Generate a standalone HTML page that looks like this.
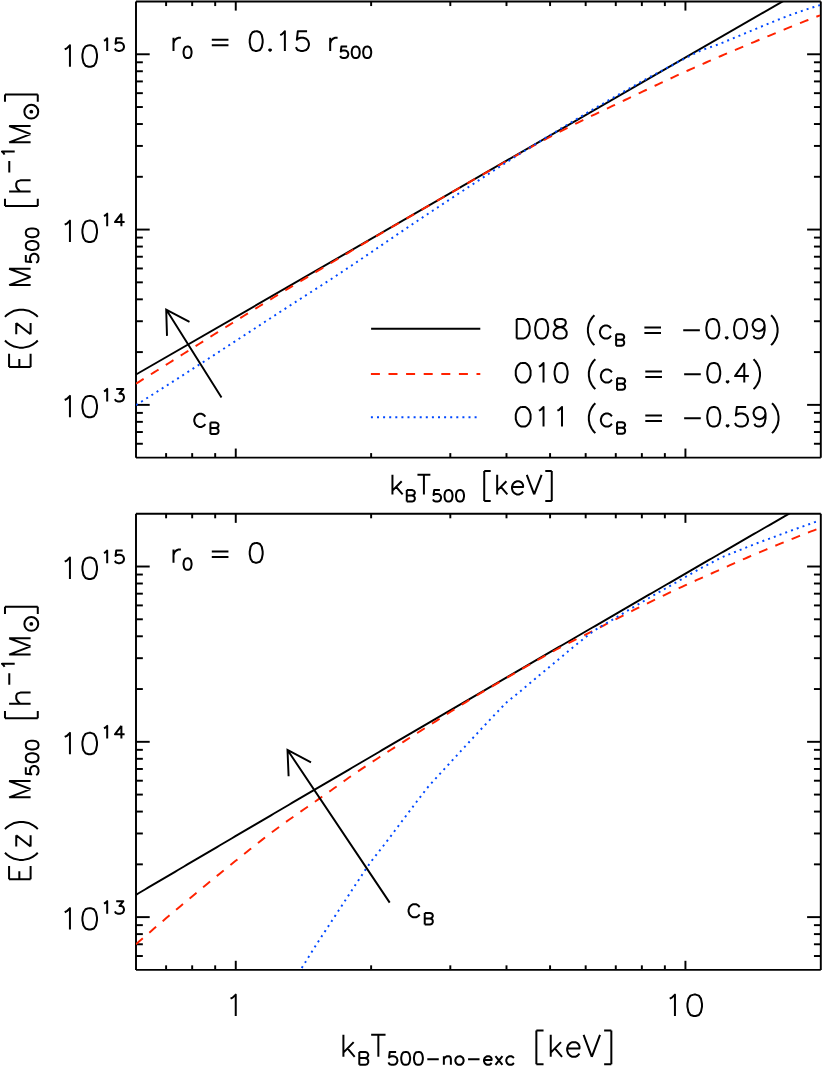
<!DOCTYPE html>
<html><head><meta charset="utf-8"><title>M-T relation</title>
<style>html,body{margin:0;padding:0;background:#fff;font-family:"Liberation Sans",sans-serif}svg{display:block}</style>
</head><body>
<svg width="822" height="1066" viewBox="0 0 822 1066">
<rect width="822" height="1066" fill="#fff"/>
<defs><clipPath id="c1"><rect x="136" y="1.5" width="684.8" height="456.14"/></clipPath><clipPath id="c2"><rect x="136" y="513.75" width="684.8" height="456.14"/></clipPath></defs>
<line x1="136" y1="1.5" x2="820.8" y2="1.5" stroke="#000" stroke-width="1.95" />
<line x1="136" y1="457.64" x2="820.8" y2="457.64" stroke="#000" stroke-width="1.95" />
<line x1="136" y1="1.5" x2="136" y2="457.64" stroke="#000" stroke-width="1.95" />
<line x1="820.8" y1="1.5" x2="820.8" y2="457.64" stroke="#000" stroke-width="1.95" />
<line x1="166.1" y1="457.64" x2="166.1" y2="453.09" stroke="#000" stroke-width="1.95" />
<line x1="166.1" y1="1.5" x2="166.1" y2="6.05" stroke="#000" stroke-width="1.95" />
<line x1="192.18" y1="457.64" x2="192.18" y2="453.09" stroke="#000" stroke-width="1.95" />
<line x1="192.18" y1="1.5" x2="192.18" y2="6.05" stroke="#000" stroke-width="1.95" />
<line x1="215.18" y1="457.64" x2="215.18" y2="453.09" stroke="#000" stroke-width="1.95" />
<line x1="215.18" y1="1.5" x2="215.18" y2="6.05" stroke="#000" stroke-width="1.95" />
<line x1="235.76" y1="457.64" x2="235.76" y2="448.54" stroke="#000" stroke-width="1.95" />
<line x1="235.76" y1="1.5" x2="235.76" y2="10.6" stroke="#000" stroke-width="1.95" />
<line x1="371.13" y1="457.64" x2="371.13" y2="453.09" stroke="#000" stroke-width="1.95" />
<line x1="371.13" y1="1.5" x2="371.13" y2="6.05" stroke="#000" stroke-width="1.95" />
<line x1="450.31" y1="457.64" x2="450.31" y2="453.09" stroke="#000" stroke-width="1.95" />
<line x1="450.31" y1="1.5" x2="450.31" y2="6.05" stroke="#000" stroke-width="1.95" />
<line x1="506.49" y1="457.64" x2="506.49" y2="453.09" stroke="#000" stroke-width="1.95" />
<line x1="506.49" y1="1.5" x2="506.49" y2="6.05" stroke="#000" stroke-width="1.95" />
<line x1="550.07" y1="457.64" x2="550.07" y2="453.09" stroke="#000" stroke-width="1.95" />
<line x1="550.07" y1="1.5" x2="550.07" y2="6.05" stroke="#000" stroke-width="1.95" />
<line x1="585.67" y1="457.64" x2="585.67" y2="453.09" stroke="#000" stroke-width="1.95" />
<line x1="585.67" y1="1.5" x2="585.67" y2="6.05" stroke="#000" stroke-width="1.95" />
<line x1="615.78" y1="457.64" x2="615.78" y2="453.09" stroke="#000" stroke-width="1.95" />
<line x1="615.78" y1="1.5" x2="615.78" y2="6.05" stroke="#000" stroke-width="1.95" />
<line x1="641.86" y1="457.64" x2="641.86" y2="453.09" stroke="#000" stroke-width="1.95" />
<line x1="641.86" y1="1.5" x2="641.86" y2="6.05" stroke="#000" stroke-width="1.95" />
<line x1="664.86" y1="457.64" x2="664.86" y2="453.09" stroke="#000" stroke-width="1.95" />
<line x1="664.86" y1="1.5" x2="664.86" y2="6.05" stroke="#000" stroke-width="1.95" />
<line x1="685.43" y1="457.64" x2="685.43" y2="448.54" stroke="#000" stroke-width="1.95" />
<line x1="685.43" y1="1.5" x2="685.43" y2="10.6" stroke="#000" stroke-width="1.95" />
<line x1="136" y1="443.76" x2="142.85" y2="443.76" stroke="#000" stroke-width="1.95" />
<line x1="820.8" y1="443.76" x2="813.95" y2="443.76" stroke="#000" stroke-width="1.95" />
<line x1="136" y1="432.02" x2="142.85" y2="432.02" stroke="#000" stroke-width="1.95" />
<line x1="820.8" y1="432.02" x2="813.95" y2="432.02" stroke="#000" stroke-width="1.95" />
<line x1="136" y1="421.86" x2="142.85" y2="421.86" stroke="#000" stroke-width="1.95" />
<line x1="820.8" y1="421.86" x2="813.95" y2="421.86" stroke="#000" stroke-width="1.95" />
<line x1="136" y1="412.89" x2="142.85" y2="412.89" stroke="#000" stroke-width="1.95" />
<line x1="820.8" y1="412.89" x2="813.95" y2="412.89" stroke="#000" stroke-width="1.95" />
<line x1="136" y1="404.87" x2="149.7" y2="404.87" stroke="#000" stroke-width="1.95" />
<line x1="820.8" y1="404.87" x2="807.1" y2="404.87" stroke="#000" stroke-width="1.95" />
<line x1="136" y1="352.1" x2="142.85" y2="352.1" stroke="#000" stroke-width="1.95" />
<line x1="820.8" y1="352.1" x2="813.95" y2="352.1" stroke="#000" stroke-width="1.95" />
<line x1="136" y1="321.23" x2="142.85" y2="321.23" stroke="#000" stroke-width="1.95" />
<line x1="820.8" y1="321.23" x2="813.95" y2="321.23" stroke="#000" stroke-width="1.95" />
<line x1="136" y1="299.33" x2="142.85" y2="299.33" stroke="#000" stroke-width="1.95" />
<line x1="820.8" y1="299.33" x2="813.95" y2="299.33" stroke="#000" stroke-width="1.95" />
<line x1="136" y1="282.34" x2="142.85" y2="282.34" stroke="#000" stroke-width="1.95" />
<line x1="820.8" y1="282.34" x2="813.95" y2="282.34" stroke="#000" stroke-width="1.95" />
<line x1="136" y1="268.46" x2="142.85" y2="268.46" stroke="#000" stroke-width="1.95" />
<line x1="820.8" y1="268.46" x2="813.95" y2="268.46" stroke="#000" stroke-width="1.95" />
<line x1="136" y1="256.72" x2="142.85" y2="256.72" stroke="#000" stroke-width="1.95" />
<line x1="820.8" y1="256.72" x2="813.95" y2="256.72" stroke="#000" stroke-width="1.95" />
<line x1="136" y1="246.56" x2="142.85" y2="246.56" stroke="#000" stroke-width="1.95" />
<line x1="820.8" y1="246.56" x2="813.95" y2="246.56" stroke="#000" stroke-width="1.95" />
<line x1="136" y1="237.59" x2="142.85" y2="237.59" stroke="#000" stroke-width="1.95" />
<line x1="820.8" y1="237.59" x2="813.95" y2="237.59" stroke="#000" stroke-width="1.95" />
<line x1="136" y1="229.57" x2="149.7" y2="229.57" stroke="#000" stroke-width="1.95" />
<line x1="820.8" y1="229.57" x2="807.1" y2="229.57" stroke="#000" stroke-width="1.95" />
<line x1="136" y1="176.8" x2="142.85" y2="176.8" stroke="#000" stroke-width="1.95" />
<line x1="820.8" y1="176.8" x2="813.95" y2="176.8" stroke="#000" stroke-width="1.95" />
<line x1="136" y1="145.93" x2="142.85" y2="145.93" stroke="#000" stroke-width="1.95" />
<line x1="820.8" y1="145.93" x2="813.95" y2="145.93" stroke="#000" stroke-width="1.95" />
<line x1="136" y1="124.03" x2="142.85" y2="124.03" stroke="#000" stroke-width="1.95" />
<line x1="820.8" y1="124.03" x2="813.95" y2="124.03" stroke="#000" stroke-width="1.95" />
<line x1="136" y1="107.04" x2="142.85" y2="107.04" stroke="#000" stroke-width="1.95" />
<line x1="820.8" y1="107.04" x2="813.95" y2="107.04" stroke="#000" stroke-width="1.95" />
<line x1="136" y1="93.16" x2="142.85" y2="93.16" stroke="#000" stroke-width="1.95" />
<line x1="820.8" y1="93.16" x2="813.95" y2="93.16" stroke="#000" stroke-width="1.95" />
<line x1="136" y1="81.42" x2="142.85" y2="81.42" stroke="#000" stroke-width="1.95" />
<line x1="820.8" y1="81.42" x2="813.95" y2="81.42" stroke="#000" stroke-width="1.95" />
<line x1="136" y1="71.26" x2="142.85" y2="71.26" stroke="#000" stroke-width="1.95" />
<line x1="820.8" y1="71.26" x2="813.95" y2="71.26" stroke="#000" stroke-width="1.95" />
<line x1="136" y1="62.29" x2="142.85" y2="62.29" stroke="#000" stroke-width="1.95" />
<line x1="820.8" y1="62.29" x2="813.95" y2="62.29" stroke="#000" stroke-width="1.95" />
<line x1="136" y1="54.27" x2="149.7" y2="54.27" stroke="#000" stroke-width="1.95" />
<line x1="820.8" y1="54.27" x2="807.1" y2="54.27" stroke="#000" stroke-width="1.95" />
<line x1="136" y1="513.75" x2="820.8" y2="513.75" stroke="#000" stroke-width="1.95" />
<line x1="136" y1="969.89" x2="820.8" y2="969.89" stroke="#000" stroke-width="1.95" />
<line x1="136" y1="513.75" x2="136" y2="969.89" stroke="#000" stroke-width="1.95" />
<line x1="820.8" y1="513.75" x2="820.8" y2="969.89" stroke="#000" stroke-width="1.95" />
<line x1="166.1" y1="969.89" x2="166.1" y2="965.34" stroke="#000" stroke-width="1.95" />
<line x1="166.1" y1="513.75" x2="166.1" y2="518.3" stroke="#000" stroke-width="1.95" />
<line x1="192.18" y1="969.89" x2="192.18" y2="965.34" stroke="#000" stroke-width="1.95" />
<line x1="192.18" y1="513.75" x2="192.18" y2="518.3" stroke="#000" stroke-width="1.95" />
<line x1="215.18" y1="969.89" x2="215.18" y2="965.34" stroke="#000" stroke-width="1.95" />
<line x1="215.18" y1="513.75" x2="215.18" y2="518.3" stroke="#000" stroke-width="1.95" />
<line x1="235.76" y1="969.89" x2="235.76" y2="960.79" stroke="#000" stroke-width="1.95" />
<line x1="235.76" y1="513.75" x2="235.76" y2="522.85" stroke="#000" stroke-width="1.95" />
<line x1="371.13" y1="969.89" x2="371.13" y2="965.34" stroke="#000" stroke-width="1.95" />
<line x1="371.13" y1="513.75" x2="371.13" y2="518.3" stroke="#000" stroke-width="1.95" />
<line x1="450.31" y1="969.89" x2="450.31" y2="965.34" stroke="#000" stroke-width="1.95" />
<line x1="450.31" y1="513.75" x2="450.31" y2="518.3" stroke="#000" stroke-width="1.95" />
<line x1="506.49" y1="969.89" x2="506.49" y2="965.34" stroke="#000" stroke-width="1.95" />
<line x1="506.49" y1="513.75" x2="506.49" y2="518.3" stroke="#000" stroke-width="1.95" />
<line x1="550.07" y1="969.89" x2="550.07" y2="965.34" stroke="#000" stroke-width="1.95" />
<line x1="550.07" y1="513.75" x2="550.07" y2="518.3" stroke="#000" stroke-width="1.95" />
<line x1="585.67" y1="969.89" x2="585.67" y2="965.34" stroke="#000" stroke-width="1.95" />
<line x1="585.67" y1="513.75" x2="585.67" y2="518.3" stroke="#000" stroke-width="1.95" />
<line x1="615.78" y1="969.89" x2="615.78" y2="965.34" stroke="#000" stroke-width="1.95" />
<line x1="615.78" y1="513.75" x2="615.78" y2="518.3" stroke="#000" stroke-width="1.95" />
<line x1="641.86" y1="969.89" x2="641.86" y2="965.34" stroke="#000" stroke-width="1.95" />
<line x1="641.86" y1="513.75" x2="641.86" y2="518.3" stroke="#000" stroke-width="1.95" />
<line x1="664.86" y1="969.89" x2="664.86" y2="965.34" stroke="#000" stroke-width="1.95" />
<line x1="664.86" y1="513.75" x2="664.86" y2="518.3" stroke="#000" stroke-width="1.95" />
<line x1="685.43" y1="969.89" x2="685.43" y2="960.79" stroke="#000" stroke-width="1.95" />
<line x1="685.43" y1="513.75" x2="685.43" y2="522.85" stroke="#000" stroke-width="1.95" />
<line x1="136" y1="956.01" x2="142.85" y2="956.01" stroke="#000" stroke-width="1.95" />
<line x1="820.8" y1="956.01" x2="813.95" y2="956.01" stroke="#000" stroke-width="1.95" />
<line x1="136" y1="944.27" x2="142.85" y2="944.27" stroke="#000" stroke-width="1.95" />
<line x1="820.8" y1="944.27" x2="813.95" y2="944.27" stroke="#000" stroke-width="1.95" />
<line x1="136" y1="934.11" x2="142.85" y2="934.11" stroke="#000" stroke-width="1.95" />
<line x1="820.8" y1="934.11" x2="813.95" y2="934.11" stroke="#000" stroke-width="1.95" />
<line x1="136" y1="925.14" x2="142.85" y2="925.14" stroke="#000" stroke-width="1.95" />
<line x1="820.8" y1="925.14" x2="813.95" y2="925.14" stroke="#000" stroke-width="1.95" />
<line x1="136" y1="917.12" x2="149.7" y2="917.12" stroke="#000" stroke-width="1.95" />
<line x1="820.8" y1="917.12" x2="807.1" y2="917.12" stroke="#000" stroke-width="1.95" />
<line x1="136" y1="864.35" x2="142.85" y2="864.35" stroke="#000" stroke-width="1.95" />
<line x1="820.8" y1="864.35" x2="813.95" y2="864.35" stroke="#000" stroke-width="1.95" />
<line x1="136" y1="833.48" x2="142.85" y2="833.48" stroke="#000" stroke-width="1.95" />
<line x1="820.8" y1="833.48" x2="813.95" y2="833.48" stroke="#000" stroke-width="1.95" />
<line x1="136" y1="811.58" x2="142.85" y2="811.58" stroke="#000" stroke-width="1.95" />
<line x1="820.8" y1="811.58" x2="813.95" y2="811.58" stroke="#000" stroke-width="1.95" />
<line x1="136" y1="794.59" x2="142.85" y2="794.59" stroke="#000" stroke-width="1.95" />
<line x1="820.8" y1="794.59" x2="813.95" y2="794.59" stroke="#000" stroke-width="1.95" />
<line x1="136" y1="780.71" x2="142.85" y2="780.71" stroke="#000" stroke-width="1.95" />
<line x1="820.8" y1="780.71" x2="813.95" y2="780.71" stroke="#000" stroke-width="1.95" />
<line x1="136" y1="768.97" x2="142.85" y2="768.97" stroke="#000" stroke-width="1.95" />
<line x1="820.8" y1="768.97" x2="813.95" y2="768.97" stroke="#000" stroke-width="1.95" />
<line x1="136" y1="758.81" x2="142.85" y2="758.81" stroke="#000" stroke-width="1.95" />
<line x1="820.8" y1="758.81" x2="813.95" y2="758.81" stroke="#000" stroke-width="1.95" />
<line x1="136" y1="749.84" x2="142.85" y2="749.84" stroke="#000" stroke-width="1.95" />
<line x1="820.8" y1="749.84" x2="813.95" y2="749.84" stroke="#000" stroke-width="1.95" />
<line x1="136" y1="741.82" x2="149.7" y2="741.82" stroke="#000" stroke-width="1.95" />
<line x1="820.8" y1="741.82" x2="807.1" y2="741.82" stroke="#000" stroke-width="1.95" />
<line x1="136" y1="689.05" x2="142.85" y2="689.05" stroke="#000" stroke-width="1.95" />
<line x1="820.8" y1="689.05" x2="813.95" y2="689.05" stroke="#000" stroke-width="1.95" />
<line x1="136" y1="658.18" x2="142.85" y2="658.18" stroke="#000" stroke-width="1.95" />
<line x1="820.8" y1="658.18" x2="813.95" y2="658.18" stroke="#000" stroke-width="1.95" />
<line x1="136" y1="636.28" x2="142.85" y2="636.28" stroke="#000" stroke-width="1.95" />
<line x1="820.8" y1="636.28" x2="813.95" y2="636.28" stroke="#000" stroke-width="1.95" />
<line x1="136" y1="619.29" x2="142.85" y2="619.29" stroke="#000" stroke-width="1.95" />
<line x1="820.8" y1="619.29" x2="813.95" y2="619.29" stroke="#000" stroke-width="1.95" />
<line x1="136" y1="605.41" x2="142.85" y2="605.41" stroke="#000" stroke-width="1.95" />
<line x1="820.8" y1="605.41" x2="813.95" y2="605.41" stroke="#000" stroke-width="1.95" />
<line x1="136" y1="593.67" x2="142.85" y2="593.67" stroke="#000" stroke-width="1.95" />
<line x1="820.8" y1="593.67" x2="813.95" y2="593.67" stroke="#000" stroke-width="1.95" />
<line x1="136" y1="583.51" x2="142.85" y2="583.51" stroke="#000" stroke-width="1.95" />
<line x1="820.8" y1="583.51" x2="813.95" y2="583.51" stroke="#000" stroke-width="1.95" />
<line x1="136" y1="574.54" x2="142.85" y2="574.54" stroke="#000" stroke-width="1.95" />
<line x1="820.8" y1="574.54" x2="813.95" y2="574.54" stroke="#000" stroke-width="1.95" />
<line x1="136" y1="566.52" x2="149.7" y2="566.52" stroke="#000" stroke-width="1.95" />
<line x1="820.8" y1="566.52" x2="807.1" y2="566.52" stroke="#000" stroke-width="1.95" />
<path d="M136 374.53 L820.8 -20.59" fill="none" stroke="#000" stroke-width="1.95" clip-path="url(#c1)"/>
<path d="M136 383.67 L139 381.8 L142 379.92 L145 378.05 L148 376.17 L151 374.29 L154 372.41 L157 370.53 L160 368.65 L163 366.76 L166 364.88 L169 362.99 L172 361.11 L175 359.22 L178 357.33 L181 355.44 L184 353.54 L187 351.65 L190 349.74 L193 347.84 L196 345.93 L199 344.03 L202 342.12 L205 340.22 L208 338.31 L211 336.41 L214 334.51 L217 332.62 L220 330.72 L223 328.84 L226 326.96 L229 325.09 L232 323.22 L235 321.35 L238 319.48 L241 317.61 L244 315.74 L247 313.88 L250 312.02 L253 310.16 L256 308.31 L259 306.46 L262 304.61 L265 302.77 L268 300.93 L271 299.1 L274 297.27 L277 295.44 L280 293.62 L283 291.8 L286 289.98 L289 288.17 L292 286.36 L295 284.55 L298 282.74 L301 280.94 L304 279.13 L307 277.33 L310 275.54 L313 273.74 L316 271.95 L319 270.16 L322 268.37 L325 266.58 L328 264.8 L331 263.01 L334 261.22 L337 259.44 L340 257.65 L343 255.87 L346 254.09 L349 252.3 L352 250.53 L355 248.75 L358 246.97 L361 245.2 L364 243.43 L367 241.67 L370 239.9 L373 238.14 L376 236.38 L379 234.63 L382 232.88 L385 231.13 L388 229.37 L391 227.62 L394 225.87 L397 224.12 L400 222.38 L403 220.63 L406 218.88 L409 217.13 L412 215.39 L415 213.64 L418 211.9 L421 210.15 L424 208.41 L427 206.67 L430 204.93 L433 203.19 L436 201.45 L439 199.71 L442 197.98 L445 196.24 L448 194.51 L451 192.78 L454 191.05 L457 189.32 L460 187.59 L463 185.87 L466 184.15 L469 182.42 L472 180.7 L475 178.98 L478 177.27 L481 175.55 L484 173.84 L487 172.12 L490 170.41 L493 168.7 L496 166.99 L499 165.29 L502 163.58 L505 161.88 L508 160.17 L511 158.47 L514 156.77 L517 155.07 L520 153.37 L523 151.68 L526 149.98 L529 148.29 L532 146.61 L535 144.96 L538 143.33 L541 141.71 L544 140.1 L547 138.51 L550 136.93 L553 135.35 L556 133.78 L559 132.21 L562 130.64 L565 129.09 L568 127.56 L571 126.04 L574 124.54 L577 123.04 L580 121.56 L583 120.09 L586 118.63 L589 117.18 L592 115.73 L595 114.29 L598 112.86 L601 111.43 L604 110 L607 108.57 L610 107.15 L613 105.72 L616 104.3 L619 102.87 L622 101.44 L625 100 L628 98.57 L631 97.13 L634 95.7 L637 94.27 L640 92.84 L643 91.42 L646 90 L649 88.58 L652 87.16 L655 85.75 L658 84.34 L661 82.93 L664 81.53 L667 80.14 L670 78.74 L673 77.36 L676 75.97 L679 74.6 L682 73.22 L685 71.86 L688 70.5 L691 69.14 L694 67.8 L697 66.46 L700 65.13 L703 63.81 L706 62.49 L709 61.18 L712 59.87 L715 58.57 L718 57.28 L721 55.99 L724 54.71 L727 53.43 L730 52.15 L733 50.88 L736 49.6 L739 48.34 L742 47.07 L745 45.81 L748 44.55 L751 43.28 L754 42.03 L757 40.77 L760 39.52 L763 38.27 L766 37.03 L769 35.79 L772 34.56 L775 33.32 L778 32.1 L781 30.87 L784 29.65 L787 28.44 L790 27.22 L793 26.01 L796 24.81 L799 23.6 L802 22.41 L805 21.21 L808 20.02 L811 18.83 L814 17.65 L817 16.47 L820 15.29" fill="none" stroke="#ff2200" stroke-width="1.95" stroke-dasharray="9 8.6" clip-path="url(#c1)"/>
<path d="M136 405.08 L139 403.18 L142 401.28 L145 399.38 L148 397.47 L151 395.57 L154 393.66 L157 391.75 L160 389.84 L163 387.93 L166 386.02 L169 384.1 L172 382.18 L175 380.26 L178 378.34 L181 376.41 L184 374.48 L187 372.55 L190 370.62 L193 368.68 L196 366.74 L199 364.8 L202 362.86 L205 360.91 L208 358.96 L211 357.02 L214 355.06 L217 353.11 L220 351.16 L223 349.2 L226 347.25 L229 345.29 L232 343.34 L235 341.38 L238 339.42 L241 337.46 L244 335.5 L247 333.54 L250 331.59 L253 329.63 L256 327.67 L259 325.71 L262 323.76 L265 321.8 L268 319.85 L271 317.89 L274 315.94 L277 313.99 L280 312.04 L283 310.09 L286 308.15 L289 306.2 L292 304.26 L295 302.32 L298 300.39 L301 298.45 L304 296.52 L307 294.6 L310 292.69 L313 290.77 L316 288.86 L319 286.95 L322 285.03 L325 283.1 L328 281.16 L331 279.2 L334 277.24 L337 275.27 L340 273.28 L343 271.29 L346 269.29 L349 267.29 L352 265.27 L355 263.25 L358 261.23 L361 259.2 L364 257.16 L367 255.12 L370 253.08 L373 251.04 L376 248.99 L379 246.94 L382 244.89 L385 242.85 L388 240.8 L391 238.75 L394 236.7 L397 234.66 L400 232.62 L403 230.58 L406 228.55 L409 226.52 L412 224.5 L415 222.48 L418 220.47 L421 218.46 L424 216.46 L427 214.48 L430 212.49 L433 210.52 L436 208.54 L439 206.56 L442 204.58 L445 202.6 L448 200.61 L451 198.63 L454 196.65 L457 194.66 L460 192.68 L463 190.7 L466 188.72 L469 186.75 L472 184.77 L475 182.8 L478 180.83 L481 178.87 L484 176.9 L487 174.94 L490 172.99 L493 171.04 L496 169.1 L499 167.16 L502 165.22 L505 163.29 L508 161.37 L511 159.46 L514 157.55 L517 155.65 L520 153.76 L523 151.87 L526 150 L529 148.13 L532 146.27 L535 144.42 L538 142.58 L541 140.75 L544 138.91 L547 137.08 L550 135.24 L553 133.41 L556 131.58 L559 129.75 L562 127.92 L565 126.1 L568 124.28 L571 122.47 L574 120.66 L577 118.86 L580 117.06 L583 115.28 L586 113.5 L589 111.72 L592 109.96 L595 108.21 L598 106.46 L601 104.73 L604 103 L607 101.28 L610 99.55 L613 97.83 L616 96.11 L619 94.39 L622 92.68 L625 90.97 L628 89.26 L631 87.55 L634 85.84 L637 84.13 L640 82.43 L643 80.74 L646 79.08 L649 77.45 L652 75.84 L655 74.25 L658 72.66 L661 71.09 L664 69.52 L667 67.95 L670 66.37 L673 64.78 L676 63.19 L679 61.6 L682 60.01 L685 58.43 L688 56.87 L691 55.33 L694 53.82 L697 52.34 L700 50.97 L703 49.75 L706 48.64 L709 47.6 L712 46.58 L715 45.55 L718 44.46 L721 43.28 L724 42.08 L727 40.86 L730 39.62 L733 38.38 L736 37.13 L739 35.87 L742 34.62 L745 33.37 L748 32.12 L751 30.88 L754 29.65 L757 28.4 L760 27.15 L763 25.9 L766 24.65 L769 23.41 L772 22.18 L775 20.96 L778 19.77 L781 18.59 L784 17.44 L787 16.31 L790 15.2 L793 14.11 L796 13.04 L799 11.99 L802 10.95 L805 9.94 L808 8.94 L811 7.95 L814 6.99 L817 6.04 L820 5.1" fill="none" stroke="#0048ff" stroke-width="1.95" stroke-dasharray="2 4.1" clip-path="url(#c1)"/>
<path d="M136 894.79 L139 893.02 L142 891.25 L145 889.48 L148 887.71 L151 885.94 L154 884.17 L157 882.4 L160 880.63 L163 878.86 L166 877.09 L169 875.32 L172 873.55 L175 871.79 L178 870.02 L181 868.25 L184 866.48 L187 864.71 L190 862.95 L193 861.18 L196 859.41 L199 857.65 L202 855.88 L205 854.11 L208 852.35 L211 850.58 L214 848.81 L217 847.05 L220 845.28 L223 843.52 L226 841.75 L229 839.99 L232 838.22 L235 836.46 L238 834.69 L241 832.93 L244 831.16 L247 829.4 L250 827.64 L253 825.87 L256 824.11 L259 822.35 L262 820.58 L265 818.82 L268 817.06 L271 815.3 L274 813.53 L277 811.77 L280 810.01 L283 808.25 L286 806.49 L289 804.72 L292 802.96 L295 801.2 L298 799.44 L301 797.68 L304 795.92 L307 794.16 L310 792.4 L313 790.64 L316 788.88 L319 787.12 L322 785.36 L325 783.6 L328 781.84 L331 780.08 L334 778.33 L337 776.57 L340 774.81 L343 773.05 L346 771.29 L349 769.54 L352 767.78 L355 766.02 L358 764.26 L361 762.51 L364 760.75 L367 758.99 L370 757.24 L373 755.48 L376 753.73 L379 751.97 L382 750.21 L385 748.46 L388 746.7 L391 744.95 L394 743.19 L397 741.44 L400 739.68 L403 737.93 L406 736.18 L409 734.42 L412 732.67 L415 730.91 L418 729.16 L421 727.41 L424 725.65 L427 723.9 L430 722.15 L433 720.4 L436 718.64 L439 716.89 L442 715.14 L445 713.39 L448 711.64 L451 709.89 L454 708.13 L457 706.38 L460 704.63 L463 702.88 L466 701.13 L469 699.38 L472 697.63 L475 695.88 L478 694.13 L481 692.38 L484 690.63 L487 688.88 L490 687.13 L493 685.39 L496 683.64 L499 681.89 L502 680.14 L505 678.39 L508 676.64 L511 674.9 L514 673.15 L517 671.4 L520 669.66 L523 667.91 L526 666.16 L529 664.42 L532 662.67 L535 660.92 L538 659.18 L541 657.43 L544 655.69 L547 653.94 L550 652.19 L553 650.45 L556 648.7 L559 646.96 L562 645.22 L565 643.47 L568 641.73 L571 639.98 L574 638.24 L577 636.5 L580 634.75 L583 633.01 L586 631.27 L589 629.52 L592 627.78 L595 626.04 L598 624.3 L601 622.55 L604 620.81 L607 619.07 L610 617.33 L613 615.59 L616 613.85 L619 612.11 L622 610.36 L625 608.62 L628 606.88 L631 605.14 L634 603.4 L637 601.66 L640 599.92 L643 598.18 L646 596.44 L649 594.71 L652 592.97 L655 591.23 L658 589.49 L661 587.75 L664 586.01 L667 584.27 L670 582.54 L673 580.8 L676 579.06 L679 577.32 L682 575.59 L685 573.85 L688 572.11 L691 570.38 L694 568.64 L697 566.9 L700 565.17 L703 563.43 L706 561.7 L709 559.96 L712 558.23 L715 556.49 L718 554.76 L721 553.02 L724 551.29 L727 549.55 L730 547.82 L733 546.08 L736 544.35 L739 542.62 L742 540.88 L745 539.15 L748 537.42 L751 535.68 L754 533.95 L757 532.22 L760 530.49 L763 528.76 L766 527.02 L769 525.29 L772 523.56 L775 521.83 L778 520.1 L781 518.37 L784 516.64 L787 514.91 L790 513.17 L793 511.44 L796 509.71 L799 507.98 L802 506.26 L805 504.53 L808 502.8 L811 501.07 L814 499.34 L817 497.61 L820 495.88" fill="none" stroke="#000" stroke-width="1.95" clip-path="url(#c2)"/>
<path d="M136 944.17 L139 941.56 L142 938.95 L145 936.36 L148 933.76 L151 931.18 L154 928.6 L157 926.02 L160 923.45 L163 920.89 L166 918.34 L169 915.79 L172 913.25 L175 910.72 L178 908.19 L181 905.67 L184 903.16 L187 900.65 L190 898.15 L193 895.65 L196 893.16 L199 890.67 L202 888.19 L205 885.71 L208 883.24 L211 880.78 L214 878.32 L217 875.88 L220 873.44 L223 871.01 L226 868.58 L229 866.17 L232 863.76 L235 861.36 L238 858.96 L241 856.55 L244 854.15 L247 851.75 L250 849.35 L253 846.97 L256 844.59 L259 842.23 L262 839.88 L265 837.56 L268 835.25 L271 832.97 L274 830.71 L277 828.48 L280 826.28 L283 824.1 L286 821.94 L289 819.8 L292 817.67 L295 815.56 L298 813.46 L301 811.36 L304 809.28 L307 807.2 L310 805.12 L313 803.04 L316 800.96 L319 798.87 L322 796.79 L325 794.69 L328 792.58 L331 790.46 L334 788.32 L337 786.16 L340 783.99 L343 781.82 L346 779.67 L349 777.54 L352 775.44 L355 773.38 L358 771.37 L361 769.36 L364 767.36 L367 765.37 L370 763.4 L373 761.42 L376 759.46 L379 757.5 L382 755.56 L385 753.61 L388 751.68 L391 749.74 L394 747.82 L397 745.9 L400 743.98 L403 742.06 L406 740.15 L409 738.24 L412 736.34 L415 734.43 L418 732.53 L421 730.63 L424 728.72 L427 726.81 L430 724.9 L433 722.98 L436 721.06 L439 719.15 L442 717.23 L445 715.31 L448 713.4 L451 711.49 L454 709.59 L457 707.69 L460 705.8 L463 703.93 L466 702.06 L469 700.2 L472 698.36 L475 696.53 L478 694.72 L481 692.92 L484 691.14 L487 689.38 L490 687.64 L493 685.89 L496 684.14 L499 682.39 L502 680.65 L505 678.9 L508 677.16 L511 675.42 L514 673.67 L517 671.93 L520 670.19 L523 668.45 L526 666.71 L529 664.98 L532 663.24 L535 661.5 L538 659.77 L541 658.04 L544 656.33 L547 654.65 L550 653 L553 651.36 L556 649.74 L559 648.12 L562 646.51 L565 644.95 L568 643.42 L571 641.92 L574 640.43 L577 638.96 L580 637.48 L583 636 L586 634.49 L589 632.97 L592 631.43 L595 629.89 L598 628.35 L601 626.8 L604 625.26 L607 623.71 L610 622.17 L613 620.62 L616 619.09 L619 617.56 L622 616.04 L625 614.52 L628 613 L631 611.49 L634 609.98 L637 608.47 L640 606.97 L643 605.48 L646 603.99 L649 602.52 L652 601.05 L655 599.59 L658 598.14 L661 596.7 L664 595.27 L667 593.85 L670 592.43 L673 591.02 L676 589.61 L679 588.21 L682 586.82 L685 585.43 L688 584.05 L691 582.68 L694 581.32 L697 579.96 L700 578.61 L703 577.27 L706 575.93 L709 574.59 L712 573.25 L715 571.91 L718 570.57 L721 569.23 L724 567.89 L727 566.55 L730 565.2 L733 563.86 L736 562.53 L739 561.19 L742 559.87 L745 558.55 L748 557.24 L751 555.94 L754 554.65 L757 553.37 L760 552.1 L763 550.84 L766 549.59 L769 548.34 L772 547.1 L775 545.86 L778 544.63 L781 543.41 L784 542.19 L787 540.97 L790 539.77 L793 538.56 L796 537.36 L799 536.17 L802 534.99 L805 533.81 L808 532.63 L811 531.46 L814 530.3 L817 529.14 L820 527.99" fill="none" stroke="#ff2200" stroke-width="1.95" stroke-dasharray="9 8.6" clip-path="url(#c2)"/>
<path d="M295 978.2 L297 975.18 L299 972.16 L301 969.14 L303 965.95 L305 962.75 L307 959.55 L309 956.35 L311 953.15 L313 949.95 L315 946.75 L317 943.55 L319 940.47 L321 937.43 L323 934.39 L325 931.35 L327 928.31 L329 925.26 L331 922.22 L333 919.18 L335 916.13 L337 913.06 L339 910 L341 906.93 L343 903.86 L345 900.79 L347 897.72 L349 894.65 L351 891.58 L353 888.55 L355 885.52 L357 882.49 L359 879.46 L361 876.43 L363 873.4 L365 870.39 L367 867.5 L369 864.61 L371 861.72 L373 859.08 L375 856.51 L377 853.95 L379 851.38 L381 848.82 L383 846.25 L385 843.69 L387 841.11 L389 838.46 L391 835.8 L393 833.15 L395 830.49 L397 827.84 L399 825.18 L401 822.53 L403 819.87 L405 817.21 L407 814.56 L409 811.9 L411 809.24 L413 806.58 L415 803.93 L417 801.28 L419 798.67 L421 796.06 L423 793.46 L425 790.85 L427 788.24 L429 785.88 L431 783.68 L433 781.48 L435 779.27 L437 777.07 L439 774.87 L441 772.68 L443 770.52 L445 768.35 L447 766.18 L449 764.01 L451 761.84 L453 759.67 L455 757.49 L457 755.32 L459 753.14 L461 750.96 L463 748.78 L465 746.6 L467 744.42 L469 742.24 L471 740.07 L473 737.91 L475 735.74 L477 733.57 L479 731.4 L481 729.23 L483 727.09 L485 724.98 L487 722.86 L489 720.74 L491 718.63 L493 716.51 L495 714.4 L497 712.28 L499 710.17 L501 708.06 L503 705.96 L505 703.85 L507 702.01 L509 700.43 L511 698.85 L513 697.27 L515 695.69 L517 694.11 L519 692.42 L521 690.73 L523 689.04 L525 687.35 L527 685.66 L529 683.97 L531 682.27 L533 680.58 L535 678.89 L537 677.22 L539 675.57 L541 673.93 L543 672.28 L545 670.63 L547 668.98 L549 667.33 L551 665.68 L553 664.03 L555 662.38 L557 660.71 L559 659.04 L561 657.36 L563 655.69 L565 654.02 L567 652.35 L569 650.67 L571 649 L573 647.33 L575 645.7 L577 644.09 L579 642.49 L581 640.89 L583 639.29 L585 637.69 L587 636.09 L589 634.49 L591 632.89 L593 631.28 L595 630.02 L597 628.82 L599 627.62 L601 626.42 L603 625.22 L605 624.05 L607 622.88 L609 621.72 L611 620.55 L613 619.38 L615 618.21 L617 617.02 L619 615.82 L621 614.62 L623 613.42 L625 612.22 L627 611.02 L629 609.82 L631 608.62 L633 607.42 L635 606.22 L637 605.02 L639 603.82 L641 602.64 L643 601.48 L645 600.33 L647 599.17 L649 598.01 L651 596.85 L653 595.69 L655 594.53 L657 593.37 L659 592.21 L661 591.06 L663 589.91 L665 588.76 L667 587.61 L669 586.46 L671 585.32 L673 584.17 L675 583.02 L677 581.87 L679 580.72 L681 579.58 L683 578.43 L685 577.28 L687 576.13 L689 574.98 L691 573.83 L693 572.69 L695 571.54 L697 570.39 L699 569.24 L701 568.15 L703 567.11 L705 566.07 L707 565.03 L709 563.99 L711 562.96 L713 561.92 L715 560.88 L717 559.84 L719 558.8 L721 557.76 L723 556.84 L725 556.03 L727 555.23 L729 554.42 L731 553.62 L733 552.81 L735 552.01 L737 551.2 L739 550.4 L741 549.59 L743 548.78 L745 547.98 L747 547.17 L749 546.37 L751 545.56 L753 544.76 L755 543.98 L757 543.24 L759 542.5 L761 541.76 L763 541.01 L765 540.27 L767 539.53 L769 538.79 L771 538.05 L773 537.3 L775 536.56 L777 535.82 L779 535.08 L781 534.34 L783 533.6 L785 532.85 L787 532.12 L789 531.4 L791 530.68 L793 529.96 L795 529.24 L797 528.52 L799 527.8 L801 527.08 L803 526.37 L805 525.65 L807 524.93 L809 524.21 L811 523.49 L813 522.77 L815 522.05 L817 521.33 L819 520.61" fill="none" stroke="#0048ff" stroke-width="1.95" stroke-dasharray="2 4.1" clip-path="url(#c2)"/>
<line x1="371.1" y1="328.8" x2="480.3" y2="328.8" stroke="#000" stroke-width="1.95" />
<line x1="370.9" y1="374.05" x2="480.3" y2="374.05" stroke="#ff2200" stroke-width="1.95" stroke-dasharray="9 8.6"/>
<line x1="370.9" y1="417.3" x2="480.3" y2="417.3" stroke="#0048ff" stroke-width="1.95" stroke-dasharray="2 4.1"/>
<path d="M221.5 397.4 L166.2 309.6 M167 335.9 L166.2 309.6 L189.5 321.9" fill="none" stroke="#000" stroke-width="1.95" stroke-linejoin="miter"/>
<path d="M389.7 902.6 L287.5 750 M288.6 776.2 L287.5 750 L311 762.3" fill="none" stroke="#000" stroke-width="1.95" stroke-linejoin="miter"/>
<g transform="translate(58.5 66.72)" fill="none" stroke="#000" stroke-width="2.0" stroke-linejoin="round"><path d="M6.24 -17.33 L8.32 -18.35 L11.44 -21.4 L11.44 0 M30.16 -21.4 L27.04 -20.38 L24.96 -17.33 L23.92 -12.23 L23.92 -9.17 L24.96 -4.08 L27.04 -1.02 L30.16 0 L32.24 0 L35.36 -1.02 L37.44 -4.08 L38.48 -9.17 L38.48 -12.23 L37.44 -17.33 L35.36 -20.38 L32.24 -21.4 L30.16 -21.4 M45.47 -26 L46.76 -26.6 L48.69 -28.4 L48.69 -15.8 M64.17 -28.4 L57.72 -28.4 L57.08 -23 L57.72 -23.6 L59.65 -24.2 L61.59 -24.2 L63.52 -23.6 L64.81 -22.4 L65.46 -20.6 L65.46 -19.4 L64.81 -17.6 L63.52 -16.4 L61.59 -15.8 L59.65 -15.8 L57.72 -16.4 L57.08 -17 L56.43 -18.2"/></g>
<g transform="translate(58.5 578.97)" fill="none" stroke="#000" stroke-width="2.0" stroke-linejoin="round"><path d="M6.24 -17.33 L8.32 -18.35 L11.44 -21.4 L11.44 0 M30.16 -21.4 L27.04 -20.38 L24.96 -17.33 L23.92 -12.23 L23.92 -9.17 L24.96 -4.08 L27.04 -1.02 L30.16 0 L32.24 0 L35.36 -1.02 L37.44 -4.08 L38.48 -9.17 L38.48 -12.23 L37.44 -17.33 L35.36 -20.38 L32.24 -21.4 L30.16 -21.4 M45.47 -26 L46.76 -26.6 L48.69 -28.4 L48.69 -15.8 M64.17 -28.4 L57.72 -28.4 L57.08 -23 L57.72 -23.6 L59.65 -24.2 L61.59 -24.2 L63.52 -23.6 L64.81 -22.4 L65.46 -20.6 L65.46 -19.4 L64.81 -17.6 L63.52 -16.4 L61.59 -15.8 L59.65 -15.8 L57.72 -16.4 L57.08 -17 L56.43 -18.2"/></g>
<g transform="translate(58.5 242.02)" fill="none" stroke="#000" stroke-width="2.0" stroke-linejoin="round"><path d="M6.24 -17.33 L8.32 -18.35 L11.44 -21.4 L11.44 0 M30.16 -21.4 L27.04 -20.38 L24.96 -17.33 L23.92 -12.23 L23.92 -9.17 L24.96 -4.08 L27.04 -1.02 L30.16 0 L32.24 0 L35.36 -1.02 L37.44 -4.08 L38.48 -9.17 L38.48 -12.23 L37.44 -17.33 L35.36 -20.38 L32.24 -21.4 L30.16 -21.4 M45.47 -26 L46.76 -26.6 L48.69 -28.4 L48.69 -15.8 M62.88 -28.4 L56.43 -20 L66.1 -20 M62.88 -28.4 L62.88 -15.8"/></g>
<g transform="translate(58.5 754.27)" fill="none" stroke="#000" stroke-width="2.0" stroke-linejoin="round"><path d="M6.24 -17.33 L8.32 -18.35 L11.44 -21.4 L11.44 0 M30.16 -21.4 L27.04 -20.38 L24.96 -17.33 L23.92 -12.23 L23.92 -9.17 L24.96 -4.08 L27.04 -1.02 L30.16 0 L32.24 0 L35.36 -1.02 L37.44 -4.08 L38.48 -9.17 L38.48 -12.23 L37.44 -17.33 L35.36 -20.38 L32.24 -21.4 L30.16 -21.4 M45.47 -26 L46.76 -26.6 L48.69 -28.4 L48.69 -15.8 M62.88 -28.4 L56.43 -20 L66.1 -20 M62.88 -28.4 L62.88 -15.8"/></g>
<g transform="translate(58.5 417.32)" fill="none" stroke="#000" stroke-width="2.0" stroke-linejoin="round"><path d="M6.24 -17.33 L8.32 -18.35 L11.44 -21.4 L11.44 0 M30.16 -21.4 L27.04 -20.38 L24.96 -17.33 L23.92 -12.23 L23.92 -9.17 L24.96 -4.08 L27.04 -1.02 L30.16 0 L32.24 0 L35.36 -1.02 L37.44 -4.08 L38.48 -9.17 L38.48 -12.23 L37.44 -17.33 L35.36 -20.38 L32.24 -21.4 L30.16 -21.4 M45.47 -26 L46.76 -26.6 L48.69 -28.4 L48.69 -15.8 M57.72 -28.4 L64.81 -28.4 L60.94 -23.6 L62.88 -23.6 L64.17 -23 L64.81 -22.4 L65.46 -20.6 L65.46 -19.4 L64.81 -17.6 L63.52 -16.4 L61.59 -15.8 L59.65 -15.8 L57.72 -16.4 L57.08 -17 L56.43 -18.2"/></g>
<g transform="translate(58.5 929.57)" fill="none" stroke="#000" stroke-width="2.0" stroke-linejoin="round"><path d="M6.24 -17.33 L8.32 -18.35 L11.44 -21.4 L11.44 0 M30.16 -21.4 L27.04 -20.38 L24.96 -17.33 L23.92 -12.23 L23.92 -9.17 L24.96 -4.08 L27.04 -1.02 L30.16 0 L32.24 0 L35.36 -1.02 L37.44 -4.08 L38.48 -9.17 L38.48 -12.23 L37.44 -17.33 L35.36 -20.38 L32.24 -21.4 L30.16 -21.4 M45.47 -26 L46.76 -26.6 L48.69 -28.4 L48.69 -15.8 M57.72 -28.4 L64.81 -28.4 L60.94 -23.6 L62.88 -23.6 L64.17 -23 L64.81 -22.4 L65.46 -20.6 L65.46 -19.4 L64.81 -17.6 L63.52 -16.4 L61.59 -15.8 L59.65 -15.8 L57.72 -16.4 L57.08 -17 L56.43 -18.2"/></g>
<g transform="translate(224.3 1016)" fill="none" stroke="#000" stroke-width="2.0" stroke-linejoin="round"><path d="M6.24 -17.33 L8.32 -18.35 L11.44 -21.4 L11.44 0"/></g>
<g transform="translate(663.5 1016)" fill="none" stroke="#000" stroke-width="2.0" stroke-linejoin="round"><path d="M6.24 -17.33 L8.32 -18.35 L11.44 -21.4 L11.44 0 M30.16 -21.4 L27.04 -20.38 L24.96 -17.33 L23.92 -12.23 L23.92 -9.17 L24.96 -4.08 L27.04 -1.02 L30.16 0 L32.24 0 L35.36 -1.02 L37.44 -4.08 L38.48 -9.17 L38.48 -12.23 L37.44 -17.33 L35.36 -20.38 L32.24 -21.4 L30.16 -21.4"/></g>
<g transform="translate(388.75 494.4)" fill="none" stroke="#000" stroke-width="2.0" stroke-linejoin="round"><path d="M3.7 -19.62 L3.7 0 M12.95 -13.08 L3.7 -3.74 M7.4 -7.47 L13.88 0 M18.02 -4.36 L18.02 7.19 M18.02 -4.36 L23.18 -4.36 L24.9 -3.81 L25.47 -3.26 L26.05 -2.16 L26.05 -1.06 L25.47 0.04 L24.9 0.59 L23.18 1.14 M18.02 1.14 L23.18 1.14 L24.9 1.69 L25.47 2.24 L26.05 3.34 L26.05 4.99 L25.47 6.09 L24.9 6.64 L23.18 7.19 L18.02 7.19 M35.17 -19.62 L35.17 0 M28.69 -19.62 L41.64 -19.62 M51.17 -4.36 L45.44 -4.36 L44.86 0.59 L45.44 0.04 L47.16 -0.51 L48.88 -0.51 L50.6 0.04 L51.74 1.14 L52.32 2.79 L52.32 3.89 L51.74 5.54 L50.6 6.64 L48.88 7.19 L47.16 7.19 L45.44 6.64 L44.86 6.09 L44.29 4.99 M59.2 -4.36 L57.48 -3.81 L56.33 -2.16 L55.76 0.59 L55.76 2.24 L56.33 4.99 L57.48 6.64 L59.2 7.19 L60.35 7.19 L62.07 6.64 L63.21 4.99 L63.79 2.24 L63.79 0.59 L63.21 -2.16 L62.07 -3.81 L60.35 -4.36 L59.2 -4.36 M70.67 -4.36 L68.95 -3.81 L67.8 -2.16 L67.23 0.59 L67.23 2.24 L67.8 4.99 L68.95 6.64 L70.67 7.19 L71.82 7.19 L73.54 6.64 L74.68 4.99 L75.26 2.24 L75.26 0.59 L74.68 -2.16 L73.54 -3.81 L71.82 -4.36 L70.67 -4.36 M95.48 -23.36 L95.48 6.54 M95.48 -23.36 L101.95 -23.36 M95.48 6.54 L101.95 6.54 M108.43 -19.62 L108.43 0 M117.68 -13.08 L108.43 -3.74 M112.13 -7.47 L118.6 0 M123.23 -7.47 L134.33 -7.47 L134.33 -9.34 L133.4 -11.21 L132.48 -12.15 L130.63 -13.08 L127.85 -13.08 L126 -12.15 L124.15 -10.28 L123.23 -7.47 L123.23 -5.61 L124.15 -2.8 L126 -0.93 L127.85 0 L130.63 0 L132.48 -0.93 L134.33 -2.8 M138.03 -19.62 L145.43 0 M152.83 -19.62 L145.43 0 M163 -23.36 L163 6.54 M156.53 -23.36 L163 -23.36 M156.53 6.54 L163 6.54"/></g>
<g transform="translate(339.3 1056.8)" fill="none" stroke="#000" stroke-width="2.0" stroke-linejoin="round"><path d="M4.11 -22 L4.11 0 M14.38 -14.67 L4.11 -4.19 M8.22 -8.38 L15.4 0 M20.01 -4.89 L20.01 8.07 M20.01 -4.89 L25.74 -4.89 L27.65 -4.27 L28.28 -3.66 L28.92 -2.42 L28.92 -1.19 L28.28 0.05 L27.65 0.66 L25.74 1.28 M20.01 1.28 L25.74 1.28 L27.65 1.9 L28.28 2.51 L28.92 3.75 L28.92 5.6 L28.28 6.83 L27.65 7.45 L25.74 8.07 L20.01 8.07 M39.05 -22 L39.05 0 M31.86 -22 L46.24 -22 M56.81 -4.89 L50.45 -4.89 L49.81 0.66 L50.45 0.05 L52.36 -0.57 L54.27 -0.57 L56.18 0.05 L57.45 1.28 L58.09 3.13 L58.09 4.36 L57.45 6.22 L56.18 7.45 L54.27 8.07 L52.36 8.07 L50.45 7.45 L49.81 6.83 L49.17 5.6 M65.73 -4.89 L63.82 -4.27 L62.54 -2.42 L61.91 0.66 L61.91 2.51 L62.54 5.6 L63.82 7.45 L65.73 8.07 L67 8.07 L68.91 7.45 L70.19 5.6 L70.82 2.51 L70.82 0.66 L70.19 -2.42 L68.91 -4.27 L67 -4.89 L65.73 -4.89 M78.46 -4.89 L76.55 -4.27 L75.28 -2.42 L74.64 0.66 L74.64 2.51 L75.28 5.6 L76.55 7.45 L78.46 8.07 L79.74 8.07 L81.65 7.45 L82.92 5.6 L83.56 2.51 L83.56 0.66 L82.92 -2.42 L81.65 -4.27 L79.74 -4.89 L78.46 -4.89 M88.01 2.51 L99.48 2.51 M104.57 -0.57 L104.57 8.07 M104.57 1.9 L106.48 0.05 L107.75 -0.57 L109.66 -0.57 L110.94 0.05 L111.57 1.9 L111.57 8.07 M119.21 -0.57 L117.94 0.05 L116.67 1.28 L116.03 3.13 L116.03 4.36 L116.67 6.22 L117.94 7.45 L119.21 8.07 L121.12 8.07 L122.4 7.45 L123.67 6.22 L124.31 4.36 L124.31 3.13 L123.67 1.28 L122.4 0.05 L121.12 -0.57 L119.21 -0.57 M128.77 2.51 L140.23 2.51 M144.68 3.13 L152.32 3.13 L152.32 1.9 L151.69 0.66 L151.05 0.05 L149.78 -0.57 L147.87 -0.57 L146.59 0.05 L145.32 1.28 L144.68 3.13 L144.68 4.36 L145.32 6.22 L146.59 7.45 L147.87 8.07 L149.78 8.07 L151.05 7.45 L152.32 6.22 M156.15 -0.57 L163.15 8.07 M163.15 -0.57 L156.15 8.07 M174.61 1.28 L173.34 0.05 L172.06 -0.57 L170.15 -0.57 L168.88 0.05 L167.61 1.28 L166.97 3.13 L166.97 4.36 L167.61 6.22 L168.88 7.45 L170.15 8.07 L172.06 8.07 L173.34 7.45 L174.61 6.22 M197.06 -26.19 L197.06 7.33 M197.06 -26.19 L204.25 -26.19 M197.06 7.33 L204.25 7.33 M211.44 -22 L211.44 0 M221.71 -14.67 L211.44 -4.19 M215.55 -8.38 L222.74 0 M227.87 -8.38 L240.19 -8.38 L240.19 -10.48 L239.17 -12.57 L238.14 -13.62 L236.09 -14.67 L233.01 -14.67 L230.95 -13.62 L228.9 -11.52 L227.87 -8.38 L227.87 -6.29 L228.9 -3.14 L230.95 -1.05 L233.01 0 L236.09 0 L238.14 -1.05 L240.19 -3.14 M244.3 -22 L252.52 0 M260.73 -22 L252.52 0 M272.03 -26.19 L272.03 7.33 M264.84 -26.19 L272.03 -26.19 M264.84 7.33 L272.03 7.33"/></g>
<g transform="translate(30.6 371.2) rotate(-90)" fill="none" stroke="#000" stroke-width="2.0" stroke-linejoin="round"><path d="M4.1 -21.52 L4.1 0 M4.1 -21.52 L17.42 -21.52 M4.1 -11.27 L12.3 -11.27 M4.1 0 L17.42 0 M30.75 -25.62 L28.7 -23.57 L26.65 -20.5 L24.6 -16.4 L23.57 -11.27 L23.57 -7.17 L24.6 -2.05 L26.65 2.05 L28.7 5.12 L30.75 7.17 M48.17 -14.35 L36.9 0 M36.9 -14.35 L48.17 -14.35 M36.9 0 L48.17 0 M54.32 -25.62 L56.37 -23.57 L58.42 -20.5 L60.47 -16.4 L61.5 -11.27 L61.5 -7.17 L60.47 -2.05 L58.42 2.05 L56.37 5.12 L54.32 7.17 M86.1 -21.52 L86.1 0 M86.1 -21.52 L94.3 0 M102.5 -21.52 L94.3 0 M102.5 -21.52 L102.5 0 M116.13 -4.79 L109.78 -4.79 L109.14 0.65 L109.78 0.04 L111.68 -0.56 L113.59 -0.56 L115.5 0.04 L116.77 1.25 L117.4 3.06 L117.4 4.27 L116.77 6.08 L115.5 7.29 L113.59 7.89 L111.68 7.89 L109.78 7.29 L109.14 6.69 L108.51 5.48 M125.03 -4.79 L123.12 -4.18 L121.85 -2.37 L121.22 0.65 L121.22 2.46 L121.85 5.48 L123.12 7.29 L125.03 7.89 L126.3 7.89 L128.21 7.29 L129.48 5.48 L130.11 2.46 L130.11 0.65 L129.48 -2.37 L128.21 -4.18 L126.3 -4.79 L125.03 -4.79 M137.74 -4.79 L135.83 -4.18 L134.56 -2.37 L133.93 0.65 L133.93 2.46 L134.56 5.48 L135.83 7.29 L137.74 7.89 L139.01 7.89 L140.92 7.29 L142.19 5.48 L142.82 2.46 L142.82 0.65 L142.19 -2.37 L140.92 -4.18 L139.01 -4.79 L137.74 -4.79 M165.23 -25.62 L165.23 7.17 M165.23 -25.62 L172.41 -25.62 M165.23 7.17 L172.41 7.17 M179.58 -21.52 L179.58 0 M179.58 -10.25 L182.66 -13.32 L184.7 -14.35 L187.78 -14.35 L189.83 -13.32 L190.85 -10.25 L190.85 0 M198.77 -21.32 L210.21 -21.32 M216.56 -26.15 L217.83 -26.75 L219.74 -28.57 L219.74 -15.89 M228.84 -21.52 L228.84 0 M228.84 -21.52 L237.04 0 M245.24 -21.52 L237.04 0 M245.24 -21.52 L245.24 0 M276.75 -25.62 L276.75 7.17 M269.57 -25.62 L276.75 -25.62 M269.57 7.17 L276.75 7.17"/><circle cx="259.51" cy="0.7" r="6.93"/><circle cx="259.51" cy="0.7" r="1.9" fill="#000" stroke="none"/></g>
<g transform="translate(30.6 883.45) rotate(-90)" fill="none" stroke="#000" stroke-width="2.0" stroke-linejoin="round"><path d="M4.1 -21.52 L4.1 0 M4.1 -21.52 L17.42 -21.52 M4.1 -11.27 L12.3 -11.27 M4.1 0 L17.42 0 M30.75 -25.62 L28.7 -23.57 L26.65 -20.5 L24.6 -16.4 L23.57 -11.27 L23.57 -7.17 L24.6 -2.05 L26.65 2.05 L28.7 5.12 L30.75 7.17 M48.17 -14.35 L36.9 0 M36.9 -14.35 L48.17 -14.35 M36.9 0 L48.17 0 M54.32 -25.62 L56.37 -23.57 L58.42 -20.5 L60.47 -16.4 L61.5 -11.27 L61.5 -7.17 L60.47 -2.05 L58.42 2.05 L56.37 5.12 L54.32 7.17 M86.1 -21.52 L86.1 0 M86.1 -21.52 L94.3 0 M102.5 -21.52 L94.3 0 M102.5 -21.52 L102.5 0 M116.13 -4.79 L109.78 -4.79 L109.14 0.65 L109.78 0.04 L111.68 -0.56 L113.59 -0.56 L115.5 0.04 L116.77 1.25 L117.4 3.06 L117.4 4.27 L116.77 6.08 L115.5 7.29 L113.59 7.89 L111.68 7.89 L109.78 7.29 L109.14 6.69 L108.51 5.48 M125.03 -4.79 L123.12 -4.18 L121.85 -2.37 L121.22 0.65 L121.22 2.46 L121.85 5.48 L123.12 7.29 L125.03 7.89 L126.3 7.89 L128.21 7.29 L129.48 5.48 L130.11 2.46 L130.11 0.65 L129.48 -2.37 L128.21 -4.18 L126.3 -4.79 L125.03 -4.79 M137.74 -4.79 L135.83 -4.18 L134.56 -2.37 L133.93 0.65 L133.93 2.46 L134.56 5.48 L135.83 7.29 L137.74 7.89 L139.01 7.89 L140.92 7.29 L142.19 5.48 L142.82 2.46 L142.82 0.65 L142.19 -2.37 L140.92 -4.18 L139.01 -4.79 L137.74 -4.79 M165.23 -25.62 L165.23 7.17 M165.23 -25.62 L172.41 -25.62 M165.23 7.17 L172.41 7.17 M179.58 -21.52 L179.58 0 M179.58 -10.25 L182.66 -13.32 L184.7 -14.35 L187.78 -14.35 L189.83 -13.32 L190.85 -10.25 L190.85 0 M198.77 -21.32 L210.21 -21.32 M216.56 -26.15 L217.83 -26.75 L219.74 -28.57 L219.74 -15.89 M228.84 -21.52 L228.84 0 M228.84 -21.52 L237.04 0 M245.24 -21.52 L237.04 0 M245.24 -21.52 L245.24 0 M276.75 -25.62 L276.75 7.17 M269.57 -25.62 L276.75 -25.62 M269.57 7.17 L276.75 7.17"/><circle cx="259.51" cy="0.7" r="6.93"/><circle cx="259.51" cy="0.7" r="1.9" fill="#000" stroke="none"/></g>
<g transform="translate(169.8 50.9)" fill="none" stroke="#000" stroke-width="2.0" stroke-linejoin="round"><path d="M3.7 -13.08 L3.7 0 M3.7 -7.47 L4.62 -10.28 L6.48 -12.15 L8.33 -13.08 L11.1 -13.08 M17.19 -4.36 L15.47 -3.81 L14.32 -2.16 L13.75 0.59 L13.75 2.24 L14.32 4.99 L15.47 6.64 L17.19 7.19 L18.33 7.19 L20.05 6.64 L21.2 4.99 L21.77 2.24 L21.77 0.59 L21.2 -2.16 L20.05 -3.81 L18.33 -4.36 L17.19 -4.36 M42 -11.21 L58.65 -11.21 M42 -5.61 L58.65 -5.61 M85.47 -19.62 L82.69 -18.68 L80.84 -15.88 L79.92 -11.21 L79.92 -8.41 L80.84 -3.74 L82.69 -0.93 L85.47 0 L87.32 0 L90.09 -0.93 L91.94 -3.74 L92.87 -8.41 L92.87 -11.21 L91.94 -15.88 L90.09 -18.68 L87.32 -19.62 L85.47 -19.62 M100.27 -1.87 L99.34 -0.93 L100.27 0 L101.19 -0.93 L100.27 -1.87 M110.44 -15.88 L112.3 -16.82 L115.07 -19.62 L115.07 0 M137.27 -19.62 L128.02 -19.62 L127.09 -11.21 L128.02 -12.15 L130.79 -13.08 L133.57 -13.08 L136.34 -12.15 L138.19 -10.28 L139.12 -7.47 L139.12 -5.61 L138.19 -2.8 L136.34 -0.93 L133.57 0 L130.79 0 L128.02 -0.93 L127.09 -1.87 L126.17 -3.74 M160.39 -13.08 L160.39 0 M160.39 -7.47 L161.32 -10.28 L163.17 -12.15 L165.02 -13.08 L167.79 -13.08 M177.32 -4.36 L171.59 -4.36 L171.01 0.59 L171.59 0.04 L173.31 -0.51 L175.03 -0.51 L176.75 0.04 L177.9 1.14 L178.47 2.79 L178.47 3.89 L177.9 5.54 L176.75 6.64 L175.03 7.19 L173.31 7.19 L171.59 6.64 L171.01 6.09 L170.44 4.99 M185.35 -4.36 L183.63 -3.81 L182.48 -2.16 L181.91 0.59 L181.91 2.24 L182.48 4.99 L183.63 6.64 L185.35 7.19 L186.5 7.19 L188.22 6.64 L189.37 4.99 L189.94 2.24 L189.94 0.59 L189.37 -2.16 L188.22 -3.81 L186.5 -4.36 L185.35 -4.36 M196.82 -4.36 L195.1 -3.81 L193.95 -2.16 L193.38 0.59 L193.38 2.24 L193.95 4.99 L195.1 6.64 L196.82 7.19 L197.97 7.19 L199.69 6.64 L200.84 4.99 L201.41 2.24 L201.41 0.59 L200.84 -2.16 L199.69 -3.81 L197.97 -4.36 L196.82 -4.36"/></g>
<g transform="translate(169.8 562.65)" fill="none" stroke="#000" stroke-width="2.0" stroke-linejoin="round"><path d="M3.7 -13.08 L3.7 0 M3.7 -7.47 L4.62 -10.28 L6.48 -12.15 L8.33 -13.08 L11.1 -13.08 M17.19 -4.36 L15.47 -3.81 L14.32 -2.16 L13.75 0.59 L13.75 2.24 L14.32 4.99 L15.47 6.64 L17.19 7.19 L18.33 7.19 L20.05 6.64 L21.2 4.99 L21.77 2.24 L21.77 0.59 L21.2 -2.16 L20.05 -3.81 L18.33 -4.36 L17.19 -4.36 M42 -11.21 L58.65 -11.21 M42 -5.61 L58.65 -5.61 M85.47 -19.62 L82.69 -18.68 L80.84 -15.88 L79.92 -11.21 L79.92 -8.41 L80.84 -3.74 L82.69 -0.93 L85.47 0 L87.32 0 L90.09 -0.93 L91.94 -3.74 L92.87 -8.41 L92.87 -11.21 L91.94 -15.88 L90.09 -18.68 L87.32 -19.62 L85.47 -19.62"/></g>
<g transform="translate(513 338.6)" fill="none" stroke="#000" stroke-width="2.0" stroke-linejoin="round"><path d="M3.7 -19.62 L3.7 0 M3.7 -19.62 L10.18 -19.62 L12.95 -18.68 L14.8 -16.82 L15.73 -14.95 L16.65 -12.15 L16.65 -7.47 L15.73 -4.67 L14.8 -2.8 L12.95 -0.93 L10.18 0 L3.7 0 M27.75 -19.62 L24.98 -18.68 L23.12 -15.88 L22.2 -11.21 L22.2 -8.41 L23.12 -3.74 L24.98 -0.93 L27.75 0 L29.6 0 L32.38 -0.93 L34.23 -3.74 L35.15 -8.41 L35.15 -11.21 L34.23 -15.88 L32.38 -18.68 L29.6 -19.62 L27.75 -19.62 M45.32 -19.62 L42.55 -18.68 L41.62 -16.82 L41.62 -14.95 L42.55 -13.08 L44.4 -12.15 L48.1 -11.21 L50.88 -10.28 L52.72 -8.41 L53.65 -6.54 L53.65 -3.74 L52.72 -1.87 L51.8 -0.93 L49.02 0 L45.32 0 L42.55 -0.93 L41.62 -1.87 L40.7 -3.74 L40.7 -6.54 L41.62 -8.41 L43.47 -10.28 L46.25 -11.21 L49.95 -12.15 L51.8 -13.08 L52.72 -14.95 L52.72 -16.82 L51.8 -18.68 L49.02 -19.62 L45.32 -19.62 M81.4 -23.36 L79.55 -21.49 L77.7 -18.68 L75.85 -14.95 L74.92 -10.28 L74.92 -6.54 L75.85 -1.87 L77.7 1.87 L79.55 4.67 L81.4 6.54 M98.05 -10.28 L96.2 -12.15 L94.35 -13.08 L91.58 -13.08 L89.72 -12.15 L87.88 -10.28 L86.95 -7.47 L86.95 -5.61 L87.88 -2.8 L89.72 -0.93 L91.58 0 L94.35 0 L96.2 -0.93 L98.05 -2.8 M103.12 -4.36 L103.12 7.19 M103.12 -4.36 L108.28 -4.36 L110 -3.81 L110.57 -3.26 L111.15 -2.16 L111.15 -1.06 L110.57 0.04 L110 0.59 L108.28 1.14 M103.12 1.14 L108.28 1.14 L110 1.69 L110.57 2.24 L111.15 3.34 L111.15 4.99 L110.57 6.09 L110 6.64 L108.28 7.19 L103.12 7.19 M131.37 -11.21 L148.02 -11.21 M131.37 -5.61 L148.02 -5.61 M170.22 -8.41 L186.87 -8.41 M198.89 -19.62 L196.12 -18.68 L194.27 -15.88 L193.34 -11.21 L193.34 -8.41 L194.27 -3.74 L196.12 -0.93 L198.89 0 L200.74 0 L203.52 -0.93 L205.37 -3.74 L206.29 -8.41 L206.29 -11.21 L205.37 -15.88 L203.52 -18.68 L200.74 -19.62 L198.89 -19.62 M213.69 -1.87 L212.77 -0.93 L213.69 0 L214.62 -0.93 L213.69 -1.87 M226.64 -19.62 L223.87 -18.68 L222.02 -15.88 L221.09 -11.21 L221.09 -8.41 L222.02 -3.74 L223.87 -0.93 L226.64 0 L228.49 0 L231.27 -0.93 L233.12 -3.74 L234.04 -8.41 L234.04 -11.21 L233.12 -15.88 L231.27 -18.68 L228.49 -19.62 L226.64 -19.62 M251.62 -13.08 L250.69 -10.28 L248.84 -8.41 L246.07 -7.47 L245.14 -7.47 L242.37 -8.41 L240.52 -10.28 L239.59 -13.08 L239.59 -14.01 L240.52 -16.82 L242.37 -18.68 L245.14 -19.62 L246.07 -19.62 L248.84 -18.68 L250.69 -16.82 L251.62 -13.08 L251.62 -8.41 L250.69 -3.74 L248.84 -0.93 L246.07 0 L244.22 0 L241.44 -0.93 L240.52 -2.8 M258.09 -23.36 L259.94 -21.49 L261.79 -18.68 L263.64 -14.95 L264.57 -10.28 L264.57 -6.54 L263.64 -1.87 L261.79 1.87 L259.94 4.67 L258.09 6.54"/></g>
<g transform="translate(513 382.6)" fill="none" stroke="#000" stroke-width="2.0" stroke-linejoin="round"><path d="M8.33 -19.62 L6.48 -18.68 L4.62 -16.82 L3.7 -14.95 L2.78 -12.15 L2.78 -7.47 L3.7 -4.67 L4.62 -2.8 L6.48 -0.93 L8.33 0 L12.03 0 L13.88 -0.93 L15.73 -2.8 L16.65 -4.67 L17.57 -7.47 L17.57 -12.15 L16.65 -14.95 L15.73 -16.82 L13.88 -18.68 L12.03 -19.62 L8.33 -19.62 M25.9 -15.88 L27.75 -16.82 L30.53 -19.62 L30.53 0 M47.18 -19.62 L44.4 -18.68 L42.55 -15.88 L41.62 -11.21 L41.62 -8.41 L42.55 -3.74 L44.4 -0.93 L47.18 0 L49.03 0 L51.8 -0.93 L53.65 -3.74 L54.58 -8.41 L54.58 -11.21 L53.65 -15.88 L51.8 -18.68 L49.03 -19.62 L47.18 -19.62 M82.33 -23.36 L80.48 -21.49 L78.62 -18.68 L76.78 -14.95 L75.85 -10.28 L75.85 -6.54 L76.78 -1.87 L78.62 1.87 L80.48 4.67 L82.33 6.54 M98.98 -10.28 L97.13 -12.15 L95.28 -13.08 L92.5 -13.08 L90.65 -12.15 L88.8 -10.28 L87.88 -7.47 L87.88 -5.61 L88.8 -2.8 L90.65 -0.93 L92.5 0 L95.28 0 L97.13 -0.93 L98.98 -2.8 M104.04 -4.36 L104.04 7.19 M104.04 -4.36 L109.21 -4.36 L110.93 -3.81 L111.5 -3.26 L112.07 -2.16 L112.07 -1.06 L111.5 0.04 L110.93 0.59 L109.21 1.14 M104.04 1.14 L109.21 1.14 L110.93 1.69 L111.5 2.24 L112.07 3.34 L112.07 4.99 L111.5 6.09 L110.93 6.64 L109.21 7.19 L104.04 7.19 M132.29 -11.21 L148.94 -11.21 M132.29 -5.61 L148.94 -5.61 M171.14 -8.41 L187.79 -8.41 M199.82 -19.62 L197.04 -18.68 L195.19 -15.88 L194.27 -11.21 L194.27 -8.41 L195.19 -3.74 L197.04 -0.93 L199.82 0 L201.67 0 L204.44 -0.93 L206.29 -3.74 L207.22 -8.41 L207.22 -11.21 L206.29 -15.88 L204.44 -18.68 L201.67 -19.62 L199.82 -19.62 M214.62 -1.87 L213.69 -0.93 L214.62 0 L215.54 -0.93 L214.62 -1.87 M231.27 -19.62 L222.02 -6.54 L235.89 -6.54 M231.27 -19.62 L231.27 0 M240.52 -23.36 L242.37 -21.49 L244.22 -18.68 L246.07 -14.95 L246.99 -10.28 L246.99 -6.54 L246.07 -1.87 L244.22 1.87 L242.37 4.67 L240.52 6.54"/></g>
<g transform="translate(513 426.6)" fill="none" stroke="#000" stroke-width="2.0" stroke-linejoin="round"><path d="M8.33 -19.62 L6.48 -18.68 L4.62 -16.82 L3.7 -14.95 L2.78 -12.15 L2.78 -7.47 L3.7 -4.67 L4.62 -2.8 L6.48 -0.93 L8.33 0 L12.03 0 L13.88 -0.93 L15.73 -2.8 L16.65 -4.67 L17.57 -7.47 L17.57 -12.15 L16.65 -14.95 L15.73 -16.82 L13.88 -18.68 L12.03 -19.62 L8.33 -19.62 M25.9 -15.88 L27.75 -16.82 L30.53 -19.62 L30.53 0 M44.4 -15.88 L46.25 -16.82 L49.03 -19.62 L49.03 0 M82.33 -23.36 L80.48 -21.49 L78.62 -18.68 L76.78 -14.95 L75.85 -10.28 L75.85 -6.54 L76.78 -1.87 L78.62 1.87 L80.48 4.67 L82.33 6.54 M98.98 -10.28 L97.13 -12.15 L95.28 -13.08 L92.5 -13.08 L90.65 -12.15 L88.8 -10.28 L87.88 -7.47 L87.88 -5.61 L88.8 -2.8 L90.65 -0.93 L92.5 0 L95.28 0 L97.13 -0.93 L98.98 -2.8 M104.04 -4.36 L104.04 7.19 M104.04 -4.36 L109.21 -4.36 L110.93 -3.81 L111.5 -3.26 L112.07 -2.16 L112.07 -1.06 L111.5 0.04 L110.93 0.59 L109.21 1.14 M104.04 1.14 L109.21 1.14 L110.93 1.69 L111.5 2.24 L112.07 3.34 L112.07 4.99 L111.5 6.09 L110.93 6.64 L109.21 7.19 L104.04 7.19 M132.29 -11.21 L148.94 -11.21 M132.29 -5.61 L148.94 -5.61 M171.14 -8.41 L187.79 -8.41 M199.82 -19.62 L197.04 -18.68 L195.19 -15.88 L194.27 -11.21 L194.27 -8.41 L195.19 -3.74 L197.04 -0.93 L199.82 0 L201.67 0 L204.44 -0.93 L206.29 -3.74 L207.22 -8.41 L207.22 -11.21 L206.29 -15.88 L204.44 -18.68 L201.67 -19.62 L199.82 -19.62 M214.62 -1.87 L213.69 -0.93 L214.62 0 L215.54 -0.93 L214.62 -1.87 M233.12 -19.62 L223.87 -19.62 L222.94 -11.21 L223.87 -12.15 L226.64 -13.08 L229.42 -13.08 L232.19 -12.15 L234.04 -10.28 L234.97 -7.47 L234.97 -5.61 L234.04 -2.8 L232.19 -0.93 L229.42 0 L226.64 0 L223.87 -0.93 L222.94 -1.87 L222.02 -3.74 M252.54 -13.08 L251.62 -10.28 L249.77 -8.41 L246.99 -7.47 L246.07 -7.47 L243.29 -8.41 L241.44 -10.28 L240.52 -13.08 L240.52 -14.01 L241.44 -16.82 L243.29 -18.68 L246.07 -19.62 L246.99 -19.62 L249.77 -18.68 L251.62 -16.82 L252.54 -13.08 L252.54 -8.41 L251.62 -3.74 L249.77 -0.93 L246.99 0 L245.14 0 L242.37 -0.93 L241.44 -2.8 M259.02 -23.36 L260.87 -21.49 L262.72 -18.68 L264.57 -14.95 L265.49 -10.28 L265.49 -6.54 L264.57 -1.87 L262.72 1.87 L260.87 4.67 L259.02 6.54"/></g>
<g transform="translate(191.5 426.9)" fill="none" stroke="#000" stroke-width="2.0" stroke-linejoin="round"><path d="M13.88 -10.28 L12.03 -12.15 L10.18 -13.08 L7.4 -13.08 L5.55 -12.15 L3.7 -10.28 L2.78 -7.47 L2.78 -5.61 L3.7 -2.8 L5.55 -0.93 L7.4 0 L10.18 0 L12.03 -0.93 L13.88 -2.8 M18.94 -4.36 L18.94 7.19 M18.94 -4.36 L24.11 -4.36 L25.83 -3.81 L26.4 -3.26 L26.97 -2.16 L26.97 -1.06 L26.4 0.04 L25.83 0.59 L24.11 1.14 M18.94 1.14 L24.11 1.14 L25.83 1.69 L26.4 2.24 L26.97 3.34 L26.97 4.99 L26.4 6.09 L25.83 6.64 L24.11 7.19 L18.94 7.19"/></g>
<g transform="translate(405.8 917.3)" fill="none" stroke="#000" stroke-width="2.0" stroke-linejoin="round"><path d="M13.88 -10.28 L12.03 -12.15 L10.18 -13.08 L7.4 -13.08 L5.55 -12.15 L3.7 -10.28 L2.78 -7.47 L2.78 -5.61 L3.7 -2.8 L5.55 -0.93 L7.4 0 L10.18 0 L12.03 -0.93 L13.88 -2.8 M18.94 -4.36 L18.94 7.19 M18.94 -4.36 L24.11 -4.36 L25.83 -3.81 L26.4 -3.26 L26.97 -2.16 L26.97 -1.06 L26.4 0.04 L25.83 0.59 L24.11 1.14 M18.94 1.14 L24.11 1.14 L25.83 1.69 L26.4 2.24 L26.97 3.34 L26.97 4.99 L26.4 6.09 L25.83 6.64 L24.11 7.19 L18.94 7.19"/></g>
</svg>
</body></html>
